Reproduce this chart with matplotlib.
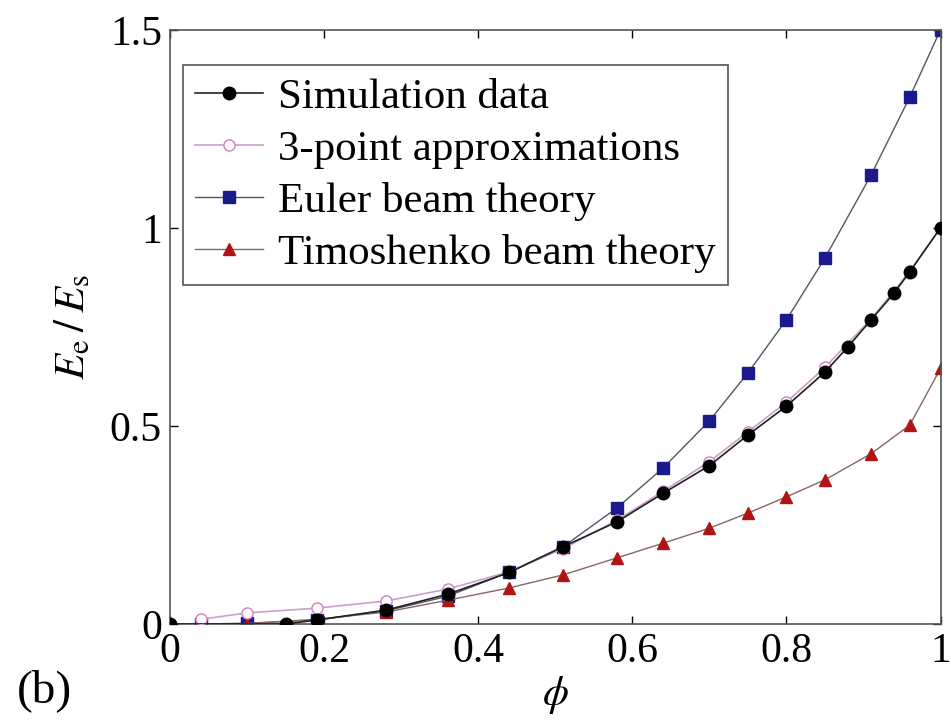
import matplotlib
matplotlib.use('Agg')
import matplotlib.pyplot as plt

plt.rcParams['font.family'] = 'Liberation Serif'
plt.rcParams['mathtext.fontset'] = 'stix'

# simulation data
sim_x = [0, 0.15, 0.19, 0.28, 0.36, 0.44, 0.51, 0.58, 0.64, 0.70, 0.75, 0.80, 0.85, 0.88, 0.91, 0.94, 0.96, 1.0]
sim_y = [0, 0.0, 0.01, 0.035, 0.075, 0.13, 0.195, 0.258, 0.33, 0.40, 0.477, 0.55, 0.636, 0.70, 0.768, 0.836, 0.889, 1.0]

# 3-point approximations
tp_x = [0.04, 0.10, 0.19, 0.28, 0.36, 0.44, 0.51, 0.58, 0.64, 0.70, 0.75, 0.80, 0.85, 0.91, 0.96, 1.0]
tp_y = [0.012, 0.028, 0.04, 0.058, 0.088, 0.132, 0.19, 0.262, 0.335, 0.41, 0.485, 0.56, 0.648, 0.77, 0.89, 1.0]

# Euler beam theory
eu_x = [0.04, 0.10, 0.19, 0.28, 0.36, 0.44, 0.51, 0.58, 0.64, 0.70, 0.75, 0.80, 0.85, 0.91, 0.96, 1.0]
eu_y = [0.0, 0.002, 0.01, 0.033, 0.07, 0.131, 0.195, 0.293, 0.394, 0.513, 0.634, 0.768, 0.924, 1.134, 1.33, 1.5]

# Timoshenko beam theory
ti_x = [0.04, 0.10, 0.19, 0.28, 0.36, 0.44, 0.51, 0.58, 0.64, 0.70, 0.75, 0.80, 0.85, 0.91, 0.96, 1.0]
ti_y = [0.0, 0.001, 0.012, 0.03, 0.06, 0.091, 0.124, 0.167, 0.204, 0.242, 0.28, 0.321, 0.364, 0.43, 0.502, 0.645]

fig = plt.figure(figsize=(9.51, 7.26), dpi=100)
ax = fig.add_axes([0.179, 0.1405, 0.81, 0.8185])

ax.plot(eu_x, eu_y, '-s', color='#555566', lw=1.0, ms=8, mfc='#1a1a8c', mec='#1a1a8c',
        label='Euler beam theory', zorder=2)
ax.plot(ti_x, ti_y, '-^', color='#886666', lw=1.0, ms=9, mfc='#b01515', mec='#b01515',
        label='Timoshenko beam theory', zorder=2)
ax.plot(tp_x, tp_y, '-o', color='#c9a0c9', lw=1.2, ms=8, mfc='white', mec='#d080c0',
        label='3-point approximations', zorder=3)
ax.plot(sim_x, sim_y, '-o', color='#222222', lw=1.2, ms=9, mfc='black', mec='black',
        label='Simulation data', zorder=4)

ax.set_xlim(0, 1)
ax.set_ylim(0, 1.5)
ax.set_xticks([0, 0.2, 0.4, 0.6, 0.8, 1])
ax.set_xticklabels(['0', '0.2', '0.4', '0.6', '0.8', '1'])
ax.set_yticks([0, 0.5, 1, 1.5])
ax.set_yticklabels(['0', '0.5', '1', '1.5'])
ax.tick_params(direction='in', top=True, right=True, labelsize=30, length=6, width=1, pad=6)
for s in ax.spines.values():
    s.set_color('#555555')
    s.set_linewidth(1.2)

ax.set_xlabel(r'$\phi$', fontsize=30, labelpad=2)
ax.set_ylabel(r'$E_{\rm e}\:/\:E_{\rm s}$', fontsize=31, labelpad=12)

handles, labels = ax.get_legend_handles_labels()
order = [3, 2, 0, 1]
leg = ax.legend([handles[i] for i in order], [labels[i] for i in order], loc='upper left',
                bbox_to_anchor=(0.017, 0.94), fontsize=31, fancybox=False, framealpha=1,
                edgecolor='#555555', handlelength=1.58, handletextpad=0.35, labelspacing=0.3,
                borderpad=0.28, borderaxespad=0)
leg.get_frame().set_linewidth(1.2)

fig.text(0.018, 0.019, '(b)', fontsize=34, va='bottom')

fig.savefig('out.png', dpi=100)
